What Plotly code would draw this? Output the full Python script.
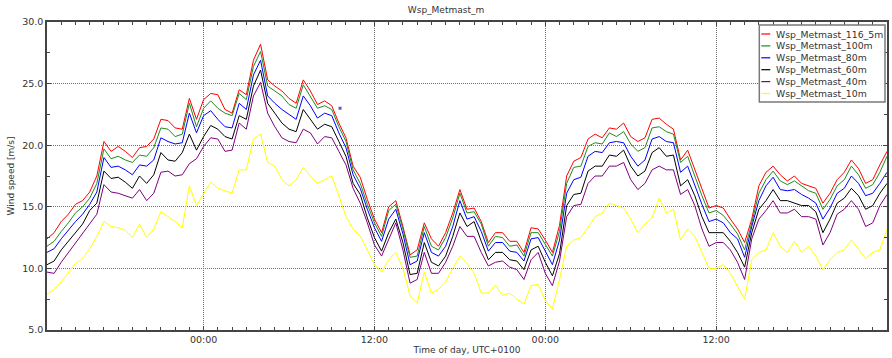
import pandas as pd
import plotly.graph_objects as go

# ---- data (half-hourly samples starting 13:00 on day 1) ----
start_time = "2014-01-01 13:00"
step = "30min"

wsp_116_5m = [
    12.4, 12.9, 13.8, 14.4, 15.2, 15.5, 16.2, 17.5, 20.3, 19.5, 19.9, 19.5, 19.0, 19.8, 19.9, 20.5, 22.1, 22.0, 21.4, 21.3, 23.8, 22.1, 23.7, 24.2,
    24.1, 22.9, 22.6, 24.5, 24.1, 26.9, 28.2, 25.3, 24.8, 24.4, 23.8, 23.4, 25.3, 24.4, 23.3, 23.6, 23.2, 21.8, 20.6, 18.3, 17.4, 15.6, 14.0, 12.9,
    15.0, 15.5, 13.4, 11.1, 11.5, 13.7, 12.4, 11.8, 12.9, 14.5, 16.4, 14.8, 14.9, 13.8, 12.1, 12.9, 12.9, 12.2, 12.2, 11.3, 13.3, 13.2, 12.3,
    11.3, 13.5, 17.5, 18.7, 19.0, 20.5, 20.9, 20.6, 21.4, 21.3, 21.8, 20.7, 20.3, 20.6, 22.1, 22.2, 21.7, 21.3, 18.8, 19.6, 18.0, 16.4, 14.9,
    15.1, 14.9, 14.0, 13.2, 12.1, 14.0, 16.7, 17.8, 18.3, 17.6, 17.1, 17.5, 16.9, 16.7, 16.5, 15.3, 16.1, 17.2, 17.8, 18.8, 18.1, 16.9, 17.2, 18.4, 19.5,
]
wsp_100m = [
    11.8, 12.2, 13.0, 13.7, 14.5, 15.0, 15.7, 16.9, 19.7, 18.9, 19.1, 18.8, 18.6, 19.2, 19.1, 19.8, 21.4, 21.3, 20.7, 20.9, 23.4, 21.5, 23.0, 23.6,
    23.0, 22.6, 22.4, 24.2, 23.7, 26.4, 27.6, 24.8, 24.4, 24.0, 23.3, 23.0, 24.9, 24.0, 23.0, 23.2, 22.9, 21.5, 20.3, 18.0, 16.9, 15.2, 13.7, 12.6,
    14.7, 15.2, 13.2, 10.9, 11.0, 13.4, 11.8, 11.5, 12.5, 14.1, 16.1, 14.5, 14.6, 13.6, 11.8, 12.6, 12.5, 11.8, 11.9, 11.0, 12.9, 12.9, 11.9,
    11.0, 13.0, 16.9, 18.2, 18.3, 19.9, 20.2, 20.1, 21.0, 20.7, 21.1, 20.1, 19.5, 19.8, 21.4, 21.5, 21.1, 20.9, 18.6, 19.1, 17.5, 15.9, 14.5,
    14.7, 14.3, 13.6, 12.8, 11.5, 13.7, 16.1, 17.2, 17.9, 17.1, 16.8, 17.1, 16.7, 16.3, 16.1, 14.8, 15.6, 16.7, 17.2, 18.3, 17.6, 16.5, 16.8, 17.8, 19.1,
]
wsp_80m = [
    11.3, 11.6, 12.4, 13.1, 13.8, 14.4, 15.2, 16.2, 19.0, 18.2, 18.3, 18.0, 17.6, 18.4, 18.3, 18.8, 20.6, 20.3, 20.1, 20.2, 22.6, 21.0, 22.4, 22.8,
    22.1, 21.5, 21.4, 23.4, 22.9, 25.7, 26.9, 24.0, 23.4, 22.9, 22.5, 22.1, 24.0, 23.2, 22.2, 22.6, 22.4, 21.0, 19.8, 17.6, 16.5, 14.8, 13.3, 12.2,
    14.0, 14.8, 12.8, 10.3, 10.6, 12.9, 11.3, 11.0, 11.8, 13.4, 15.5, 14.0, 14.2, 13.0, 11.4, 12.1, 12.1, 11.4, 11.3, 10.6, 12.4, 12.5, 11.4,
    10.3, 12.3, 16.1, 17.2, 17.4, 19.1, 19.5, 19.4, 20.2, 20.3, 20.2, 19.1, 18.3, 18.8, 20.5, 20.7, 20.3, 20.2, 17.8, 18.3, 16.7, 15.2, 13.8,
    14.0, 13.7, 12.9, 12.4, 10.9, 13.4, 15.5, 16.7, 17.4, 16.4, 16.3, 16.4, 16.0, 15.7, 15.3, 14.0, 14.9, 16.1, 16.5, 17.5, 16.9, 15.9, 16.1, 16.9, 17.8,
]
wsp_60m = [
    10.3, 10.6, 11.5, 12.2, 12.9, 13.6, 14.7, 15.3, 17.9, 17.3, 17.4, 17.0, 16.5, 17.5, 16.9, 17.6, 19.4, 18.8, 18.7, 19.4, 20.9, 19.6, 20.7, 21.6,
    21.3, 20.7, 20.5, 22.4, 22.1, 24.8, 26.1, 23.4, 22.6, 21.8, 21.3, 21.1, 22.9, 22.1, 21.3, 21.7, 21.5, 20.3, 19.1, 16.9, 16.0, 14.1, 12.5, 11.4,
    12.9, 14.0, 12.1, 9.5, 9.6, 12.1, 10.5, 10.2, 11.0, 12.6, 14.5, 13.4, 13.8, 12.2, 10.7, 11.3, 11.3, 10.7, 10.6, 9.9, 11.5, 11.8, 10.5,
    9.4, 11.2, 15.1, 16.0, 16.1, 17.9, 18.3, 18.3, 19.2, 19.1, 19.6, 18.3, 17.5, 17.9, 19.4, 19.8, 19.1, 19.2, 16.7, 17.2, 15.9, 14.2, 12.9,
    12.9, 12.9, 12.2, 11.3, 10.1, 12.9, 14.8, 15.5, 16.4, 15.5, 15.5, 15.3, 15.1, 15.1, 14.6, 12.9, 14.0, 15.3, 15.7, 16.5, 15.9, 14.8, 15.1, 16.1, 16.9,
]
wsp_40m = [
    9.7, 9.6, 10.5, 11.3, 12.1, 12.8, 13.6, 14.4, 16.8, 16.2, 16.1, 15.9, 15.7, 16.4, 15.5, 16.1, 17.8, 17.9, 17.5, 17.6, 18.5, 18.9, 19.9, 20.6,
    20.5, 19.5, 19.6, 21.8, 21.3, 24.0, 25.1, 22.6, 21.5, 20.6, 20.3, 20.2, 21.3, 21.0, 20.1, 20.7, 20.6, 19.5, 18.4, 16.5, 15.3, 13.7, 11.9, 11.0,
    12.4, 13.7, 11.5, 8.8, 9.1, 11.3, 9.6, 9.6, 10.5, 11.8, 13.4, 12.6, 12.6, 11.3, 10.2, 10.5, 10.6, 10.1, 9.9, 9.1, 10.7, 11.3, 9.6,
    8.6, 10.6, 14.2, 15.1, 15.2, 16.9, 17.5, 17.5, 18.3, 18.3, 18.6, 17.2, 16.4, 16.9, 18.0, 18.3, 18.0, 18.0, 16.0, 16.4, 15.1, 13.2, 11.8,
    12.1, 12.1, 11.5, 10.5, 9.1, 12.4, 14.0, 14.7, 15.5, 14.5, 14.5, 14.8, 14.2, 14.2, 14.0, 11.9, 12.9, 14.4, 14.8, 15.5, 14.8, 13.4, 13.7, 15.1, 16.0,
]
wsp_10m = [
    7.9, 8.3, 8.9, 9.7, 10.4, 10.8, 11.6, 12.6, 13.8, 13.4, 13.3, 13.1, 12.5, 13.6, 12.5, 13.2, 14.6, 14.2, 13.8, 13.3, 16.7, 15.1, 16.1, 17.0,
    16.5, 16.3, 16.1, 18.0, 18.0, 20.5, 20.9, 18.6, 18.3, 17.2, 16.7, 17.2, 18.2, 17.5, 16.9, 17.2, 17.5, 15.9, 14.2, 13.2, 12.6, 11.5, 10.3, 9.7,
    10.7, 11.3, 10.0, 7.8, 7.2, 9.7, 8.0, 8.3, 8.9, 10.0, 11.0, 10.4, 9.6, 8.0, 8.0, 8.6, 7.8, 8.0, 7.5, 7.1, 8.6, 8.7, 7.4,
    6.7, 9.1, 11.8, 12.3, 12.5, 13.4, 14.2, 14.5, 15.3, 15.1, 14.9, 14.0, 12.9, 13.6, 14.1, 15.7, 14.5, 14.8, 12.3, 13.2, 12.6, 11.3, 10.0,
    10.0, 10.3, 9.6, 8.6, 7.5, 10.7, 11.3, 11.5, 12.9, 11.8, 11.3, 12.2, 11.3, 11.8, 11.0, 9.9, 10.7, 11.3, 11.5, 12.3, 11.5, 10.8, 11.3, 11.5, 13.2,
]

# isolated single sample of the 80 m sensor
stray_time = ["2014-01-02 09:35"]
stray_value = [23.0]

series_names = ["Wsp_Metmast_116_5m", "Wsp_Metmast_100m", "Wsp_Metmast_80m",
                "Wsp_Metmast_60m", "Wsp_Metmast_40m", "Wsp_Metmast_10m"]
series_values = [wsp_116_5m, wsp_100m, wsp_80m, wsp_60m, wsp_40m, wsp_10m]
series_colors = ["#ff0000", "#1f8c1f", "#0000ff", "#000000", "#800080", "#ffff00"]

y_ticks = [5, 10, 15, 20, 25, 30]

# ---- figure ----
times = pd.date_range(start_time, periods=len(wsp_116_5m), freq=step)

W, H = 892, 358
ML, MR, MT, MB = 47, 3, 22, 28
PW, PH = W - ML - MR, H - MT - MB

fig = go.Figure()
for name, vals, col in zip(series_names, series_values, series_colors):
    fig.add_trace(go.Scatter(x=times, y=vals, mode="lines", name=name,
                             line=dict(color=col, width=1), showlegend=False))
fig.add_trace(go.Scatter(x=pd.to_datetime(stray_time), y=stray_value, mode="markers",
                         marker=dict(symbol="square", size=3, color="#5a5ad6"),
                         showlegend=False))

font_fam = "DejaVu Sans, Verdana, sans-serif"
axis_col = "#444444"
grid_col = "#6e6e6e"

fig.update_layout(
    width=W, height=H,
    margin=dict(l=ML, r=MR, t=MT, b=MB),
    paper_bgcolor="white", plot_bgcolor="white",
    font=dict(family=font_fam, size=9, color="#333333"),
    title=dict(text="Wsp_Metmast_m", x=0.5, xref="container", xanchor="center",
               y=1 - 10 / H, yref="container", yanchor="middle",
               font=dict(size=9, color="#333333")),
    showlegend=False,
)

fig.update_xaxes(
    type="date",
    range=[times[0], pd.Timestamp("2014-01-04 00:00")],
    tick0="2014-01-01 00:00", dtick=12 * 3600 * 1000, tickformat="%H:%M",
    ticks="inside", ticklen=4, tickcolor=axis_col,
    showline=True, linecolor=axis_col, linewidth=1.5, mirror="ticks",
    showgrid=True, gridcolor=grid_col, griddash="1px,1px", gridwidth=1,
    minor=dict(dtick=3600 * 1000, ticks="inside", ticklen=3, tickcolor=axis_col, showgrid=False),
    tickfont=dict(size=9.5, color="#333333"),
    title=dict(text="Time of day, UTC+0100", standoff=3, font=dict(size=9, color="#333333")),
    zeroline=False,
)
fig.update_yaxes(
    range=[5, 30], tickvals=y_ticks, tickformat=".1f",
    ticks="inside", ticklen=4, tickcolor=axis_col,
    showline=True, linecolor=axis_col, linewidth=1.5, mirror="ticks",
    showgrid=True, gridcolor=grid_col, griddash="1px,1px", gridwidth=1,
    minor=dict(dtick=2.5, ticks="inside", ticklen=3, tickcolor=axis_col, showgrid=False),
    tickfont=dict(size=9.5, color="#333333"),
    title=dict(text="Wind speed [m/s]", standoff=6, font=dict(size=9, color="#333333")),
    zeroline=False,
)

# ---- compact legend box drawn in pixel positions ----
def px_x(px):
    return (px - ML) / PW

def px_y(py):
    return (H - MB - py) / PH

box_l, box_r, box_t, box_b = 761, 887, 25, 102
fig.add_shape(type="rect", xref="paper", yref="paper",
              x0=px_x(box_l), x1=px_x(box_r), y0=px_y(box_b), y1=px_y(box_t),
              line=dict(color="#7a7a7a", width=1.5), fillcolor="white", layer="above")
row0, row_step = 34.0, 11.9
for i, (name, col) in enumerate(zip(series_names, series_colors)):
    ry = row0 + i * row_step
    fig.add_shape(type="line", xref="paper", yref="paper",
                  x0=px_x(763), x1=px_x(772), y0=px_y(ry), y1=px_y(ry),
                  line=dict(color=col, width=1.2), layer="above")
    fig.add_annotation(xref="paper", yref="paper", x=px_x(776), y=px_y(ry),
                       xanchor="left", yanchor="middle", text=name, showarrow=False,
                       font=dict(size=9.3, color="#333333", family=font_fam))

fig.write_html("out.html")
